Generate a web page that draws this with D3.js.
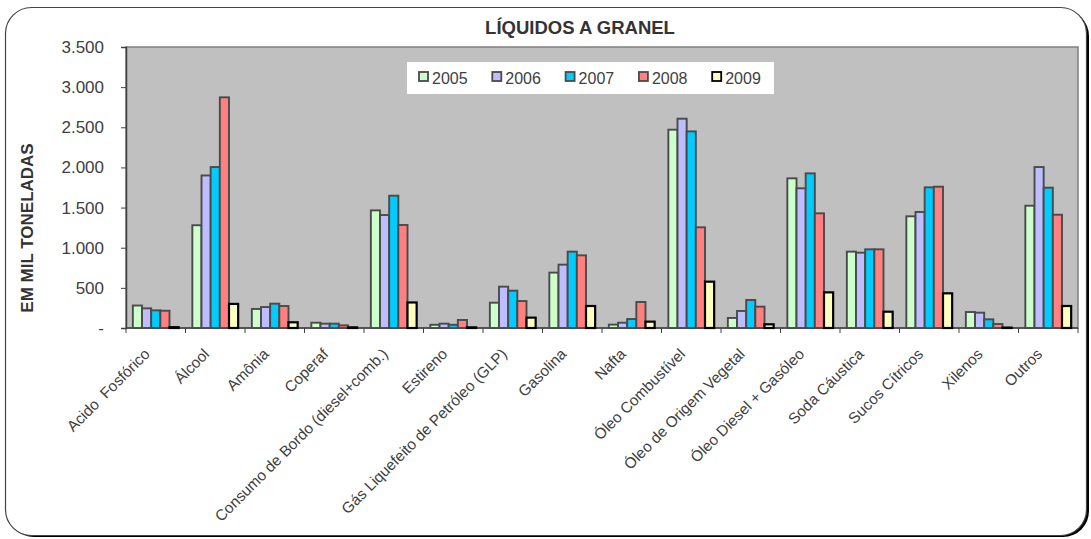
<!DOCTYPE html>
<meta charset="utf-8">
<script src="https://d3js.org/d3.v7.min.js"></script>
<style>
  body { margin: 0; background: #fff; font-family: "Liberation Sans", Arial, sans-serif; }
  svg { display: block; }
</style>
<body>
<div id="chart"></div>
<script>

// data (mil toneladas)
var categories = ["Acido  Fosfórico", "Álcool", "Amônia", "Coperaf",
  "Consumo de Bordo (diesel+comb.)", "Estireno", "Gás Liquefeito de Petróleo (GLP)",
  "Gasolina", "Nafta", "Óleo Combustível", "Óleo de Origem Vegetal",
  "Óleo Diesel + Gasóleo", "Soda Cáustica", "Sucos Cítricos", "Xilenos", "Outros"];
var years = ["2005", "2006", "2007", "2008", "2009"];
var v2005 = [280, 1280, 237, 66, 1465, 40, 315, 690, 42, 2470, 125, 1864, 951, 1391, 199, 1523];
var v2006 = [245, 1900, 261, 54, 1407, 54, 515, 789, 66, 2607, 212, 1740, 938, 1445, 191, 2005];
var v2007 = [220, 2005, 303, 54, 1648, 40, 465, 951, 112, 2449, 349, 1926, 980, 1752, 108, 1748];
var v2008 = [215, 2873, 274, 33, 1283, 100, 336, 905, 324, 1254, 266, 1428, 980, 1760, 50, 1411];
var v2009 = [10, 300, 71, 8, 318, 8, 129, 274, 79, 577, 46, 444, 203, 432, 5, 274];
var yTicks = [0, 500, 1000, 1500, 2000, 2500, 3000, 3500];
var colors = ["#CCFFCC", "#BDBDFF", "#00CCFF", "#FF8080", "#FFFFC0"];

var series = [v2005, v2006, v2007, v2008, v2009];

var W = 1091, H = 539;
var margin = {top: 47, right: 13, bottom: 211, left: 126},
    width = W - margin.left - margin.right,
    height = H - margin.top - margin.bottom;

var svg = d3.select("#chart").append("svg")
    .attr("width", W)
    .attr("height", H);

// outer frame with shadow
svg.append("rect")
    .attr("x", 8).attr("y", 10)
    .attr("width", 1081).attr("height", 527)
    .attr("rx", 26).attr("ry", 26)
    .attr("fill", "#000");
svg.append("rect")
    .attr("x", 5.5).attr("y", 7.5)
    .attr("width", 1081).attr("height", 528)
    .attr("rx", 26).attr("ry", 26)
    .attr("fill", "#fff")
    .attr("stroke", "#444")
    .attr("stroke-width", 1.2);

svg.append("text")
    .attr("x", 580).attr("y", 34)
    .attr("text-anchor", "middle")
    .style("font-size", "18.5px")
    .style("font-weight", "bold")
    .attr("fill", "#333")
    .text("LÍQUIDOS A GRANEL");

var g = svg.append("g")
    .attr("transform", "translate(" + margin.left + "," + margin.top + ")");

var x = d3.scaleBand()
    .domain(categories)
    .range([0, width])
    .paddingInner(0.23)
    .paddingOuter(0.115);

var x1 = d3.scaleBand()
    .domain(years)
    .range([0, x.bandwidth()]);

var y = d3.scaleLinear()
    .domain([0, 3500])
    .range([height, 0]);

// plot area
g.append("rect")
    .attr("width", width).attr("height", height)
    .attr("fill", "#C0C0C0")
    .attr("stroke", "#808080")
    .attr("stroke-width", 1.5);

// y axis
var yAxis = g.append("g")
    .call(d3.axisLeft(y).tickValues(yTicks).tickSize(5).tickPadding(17)
      .tickFormat(function (d) { return d === 0 ? "-" : d3.format(",")(d).replace(/,/g, "."); }));
yAxis.select(".domain").attr("stroke", "#404040").attr("stroke-width", 1.5);
yAxis.selectAll(".tick line").attr("stroke", "#404040");
yAxis.selectAll("text")
    .style("font-size", "17px")
    .attr("fill", "#404040");

// x axis: ticks on the category boundaries
var step = width / categories.length;
var xAxis = g.append("g")
    .attr("transform", "translate(0," + height + ")");
xAxis.append("line")
    .attr("x1", 0).attr("x2", width)
    .attr("stroke", "#404040").attr("stroke-width", 1.5);
xAxis.selectAll(".tk")
    .data(d3.range(categories.length + 1))
    .enter().append("line")
      .attr("x1", function (i) { return i * step; })
      .attr("x2", function (i) { return i * step; })
      .attr("y1", 0).attr("y2", 5)
      .attr("stroke", "#404040");
xAxis.selectAll(".lbl")
    .data(categories)
    .enter().append("text")
      .attr("transform", function (d) {
        return "translate(" + (x(d) + x.bandwidth() / 2 - 5) + "," + 27 + ") rotate(-45)";
      })
      .attr("text-anchor", "end")
      .style("font-size", "15.3px")
      .style("white-space", "pre")
      .attr("fill", "#404040")
      .text(function (d) { return d; });

// bars
series.forEach(function (vals, s) {
  g.append("g")
    .selectAll("rect")
    .data(vals)
    .enter().append("rect")
      .attr("x", function (d, i) { return x(categories[i]) + x1(years[s]); })
      .attr("y", function (d) { return y(d); })
      .attr("width", x1.bandwidth())
      .attr("height", function (d) { return height - y(d); })
      .attr("fill", colors[s])
      .attr("stroke", s === 4 ? "#000" : "#4a4a4a")
      .attr("stroke-width", s === 4 ? 2.2 : 1.9);
});

// legend
var legend = svg.append("g").attr("transform", "translate(407,62)");
legend.append("rect")
    .attr("width", 367).attr("height", 32)
    .attr("fill", "#fff");
var item = legend.selectAll(".item")
    .data(years)
    .enter().append("g")
      .attr("transform", function (d, i) { return "translate(" + (12 + i * 73.3) + ",0)"; });
item.append("rect")
    .attr("y", 10).attr("width", 9).attr("height", 9)
    .attr("fill", function (d, i) { return colors[i]; })
    .attr("stroke", function (d, i) { return i === 4 ? "#000" : "#4a4a4a"; })
    .attr("stroke-width", 1.8);
item.append("text")
    .attr("x", 13).attr("y", 22)
    .style("font-size", "16px")
    .attr("fill", "#404040")
    .text(function (d) { return d; });

// y axis title
svg.append("text")
    .attr("transform", "translate(33,228) rotate(-90)")
    .attr("text-anchor", "middle")
    .style("font-size", "17px")
    .style("font-weight", "bold")
    .attr("fill", "#333")
    .text("EM MIL TONELADAS");

</script>
</body>
